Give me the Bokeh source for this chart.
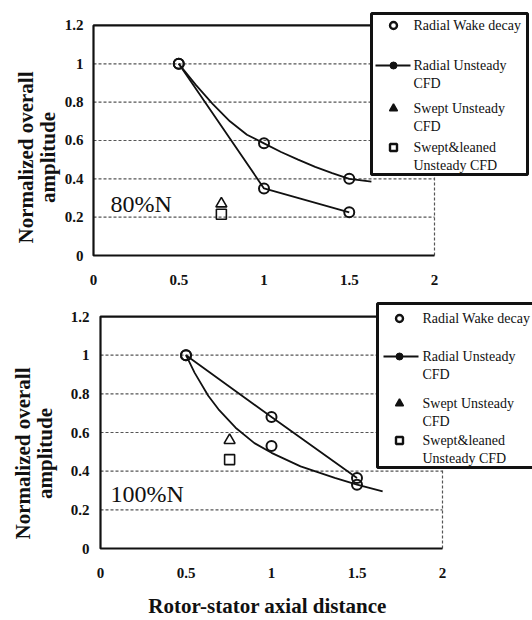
import math
from bokeh.plotting import figure
from bokeh.layouts import column
from bokeh.models import FixedTicker, NumeralTickFormatter, Label, Range1d
from bokeh.core.properties import value
from bokeh.embed import file_html
from bokeh.resources import INLINE

# ---------------- data ----------------
x_ticks = [0, 0.5, 1, 1.5, 2]
y_ticks = [0, 0.2, 0.4, 0.6, 0.8, 1.0, 1.2]

# 80%N panel
top_a_x = [0.5, 1.0, 1.5]
top_a_y = [1.0, 0.35, 0.225]
top_b_pts_x = [0.5, 1.0, 1.5]
top_b_pts_y = [1.0, 0.585, 0.40]
top_b_curve_x = [0.5, 0.6, 0.7, 0.8, 0.9, 1.0, 1.1, 1.2, 1.3, 1.4, 1.5, 1.63]
top_b_curve_y = [1.0, 0.89, 0.79, 0.70, 0.63, 0.585, 0.54, 0.50, 0.462, 0.43, 0.40, 0.385]
top_swept_x = [0.75]
top_swept_y = [0.27]
top_sl_x = [0.75]
top_sl_y = [0.215]

# 100%N panel
bot_a_x = [0.5, 1.0, 1.5]
bot_a_y = [1.0, 0.68, 0.365]
bot_b_pts_x = [0.5, 1.0, 1.5]
bot_b_pts_y = [1.0, 0.53, 0.33]
bot_b_curve_x = [0.5, 0.55, 0.63, 0.69, 0.79, 0.9, 1.0, 1.17, 1.37, 1.5, 1.65]
bot_b_curve_y = [1.0, 0.91, 0.79, 0.72, 0.625, 0.545, 0.495, 0.425, 0.365, 0.33, 0.295]
bot_swept_x = [0.755]
bot_swept_y = [0.56]
bot_sl_x = [0.755]
bot_sl_y = [0.46]

legend_lines = [["Radial Wake decay"], ["Radial Unsteady", "CFD"],
                ["Swept Unsteady", "CFD"], ["Swept&leaned", "Unsteady CFD"]]
y_title_lines = ["Normalized overall", "amplitude"]
x_title = "Rotor-stator axial distance"

SERIF = "Liberation Serif"
INK = "#111111"
W = 532


def make_panel(cfg, a_x, a_y, b_px, b_py, b_cx, b_cy, sw_x, sw_y, sl_x, sl_y, tag, xlabel):
    X0, SX, Y0, SY = cfg["X0"], cfg["SX"], cfg["Y0"], cfg["SY"]
    fx = lambda px: (px - X0) / SX          # page px -> data x
    fy = lambda py: (Y0 - py) / SY          # page py -> data y
    top, height = cfg["top"], cfg["height"]

    # the frame covers the whole canvas; axes sit at fixed data locations inside it
    p = figure(width=W, height=height, output_backend="svg", toolbar_location=None,
               x_range=Range1d(fx(0), fx(W)), y_range=Range1d(fy(top + height), fy(top)),
               min_border_left=0, min_border_right=0, min_border_top=0, min_border_bottom=0)
    p.background_fill_color = "white"
    p.border_fill_color = "white"
    p.outline_line_color = None
    p.xgrid.grid_line_color = None
    p.ygrid.grid_line_color = None

    p.xaxis.ticker = FixedTicker(ticks=x_ticks)
    p.yaxis.ticker = FixedTicker(ticks=y_ticks)
    p.xaxis.formatter = NumeralTickFormatter(format="0.[0]")
    p.yaxis.formatter = NumeralTickFormatter(format="0.[0]")
    p.xaxis.fixed_location = y_ticks[0]
    p.yaxis.fixed_location = x_ticks[0]
    for ax in (p.xaxis, p.yaxis):
        ax.axis_line_color = None
        ax.major_tick_line_color = None
        ax.minor_tick_line_color = None
        ax.major_tick_out = 0
        ax.major_tick_in = 0
        ax.minor_tick_out = 0
        ax.major_label_text_font = SERIF
        ax.major_label_text_font_style = "bold"
        ax.major_label_text_font_size = "15px"
        ax.major_label_text_color = INK
    p.xaxis.major_label_standoff = cfg["xlab_standoff"]
    p.yaxis.major_label_standoff = cfg["ylab_standoff"]

    # grid lines and plot-area border
    xa, xb = x_ticks[0], x_ticks[-1]
    ya, yb = y_ticks[0], y_ticks[-1]
    inner = y_ticks[1:-1]
    p.segment(x0=[xa] * len(inner), x1=[xb] * len(inner), y0=inner, y1=inner,
              line_color="#555555", line_width=1.2, line_dash="3 2")
    p.line([xb, xb], [ya, yb], line_color="#555555", line_width=1.2, line_dash="3 2")
    p.line([xb, xa, xa, xb], [yb, yb, ya, ya], line_color=INK, line_width=2.2)

    # data
    p.line(a_x, a_y, line_color=INK, line_width=1.8)
    p.line(b_cx, b_cy, line_color=INK, line_width=1.8)
    p.scatter(a_x, a_y, marker="circle", size=10, fill_color=None,
              line_color=INK, line_width=2)
    p.scatter(b_px, b_py, marker="circle", size=10, fill_color=None,
              line_color=INK, line_width=2)
    p.scatter(sw_x, sw_y, marker="triangle", size=11, fill_color=None,
              line_color=INK, line_width=1.6)
    p.scatter(sl_x, sl_y, marker="square", size=10, fill_color=None,
              line_color=INK, line_width=1.6)

    # legend
    L = cfg["legend"]
    p.quad(left=[fx(L["box"][0])], right=[fx(L["box"][1])],
           top=[fy(L["box"][2])], bottom=[fy(L["box"][3])],
           fill_color="white", line_color=INK, line_width=3)
    mx = fx(L["mx"])
    rows = L["rows"]
    p.scatter([mx], [fy(rows[0])], marker="circle", size=7, fill_color=None,
              line_color=INK, line_width=2.4)
    p.line([fx(L["line"][0]), fx(L["line"][1])], [fy(rows[1])] * 2,
           line_color=INK, line_width=2)
    p.scatter([mx], [fy(rows[1])], marker="circle", size=7, fill_color=INK,
              line_color=INK)
    p.scatter([mx], [fy(rows[2])], marker="triangle", size=8, fill_color=INK,
              line_color=INK, line_width=1.5)
    p.scatter([mx], [fy(rows[3])], marker="square", size=7, fill_color=None,
              line_color=INK, line_width=2.4)
    tx, ty, tt = [], [], []
    for r, lines in zip(rows, legend_lines):
        for k, s in enumerate(lines):
            tx.append(fx(L["tx"]))
            ty.append(fy(r + k * L["lh"]))
            tt.append(s)
    p.text(x=tx, y=ty, text=tt, text_font=value(SERIF), text_font_size="14px",
           text_color=INK, text_baseline="middle", text_align="left")

    # y-axis title (two rotated lines)
    yt = cfg["ytitle"]
    p.text(x=[fx(yt["x"][0]), fx(yt["x"][1])], y=[fy(yt["y"])] * 2, text=y_title_lines,
           angle=math.pi / 2, text_font=value(SERIF), text_font_style="bold",
           text_font_size="21px", text_color=INK, text_align="center",
           text_baseline="middle")

    if xlabel:
        xt = cfg["xtitle"]
        p.text(x=[fx(xt[0])], y=[fy(xt[1])], text=[xlabel], text_font=value(SERIF),
               text_font_style="bold", text_font_size="21px", text_color=INK,
               text_align="center", text_baseline="middle")

    p.add_layout(Label(x=fx(tag[1]), y=fy(tag[2]), text=tag[0], text_font=SERIF,
                       text_font_size="24px", text_color=INK,
                       text_baseline="middle"))
    return p


top_cfg = dict(X0=93, SX=170.5, Y0=255, SY=191.7, top=0, height=296,
               xlab_standoff=19, ylab_standoff=10,
               ytitle=dict(x=(25, 47), y=157),
               legend=dict(box=(371, 527, 13, 174), mx=393, tx=413, line=(375, 410),
                           rows=[25, 65, 108, 147], lh=18))
bot_cfg = dict(X0=100, SX=171, Y0=548, SY=193.3, top=296, height=324,
               xlab_standoff=19, ylab_standoff=11,
               ytitle=dict(x=(22, 44), y=453), xtitle=(267, 605),
               legend=dict(box=(377, 545, 303, 467), mx=399, tx=422, line=(383, 418),
                           rows=[318, 356, 403, 440], lh=18))

p1 = make_panel(top_cfg, top_a_x, top_a_y, top_b_pts_x, top_b_pts_y,
                top_b_curve_x, top_b_curve_y, top_swept_x, top_swept_y, top_sl_x, top_sl_y,
                ("80%N", 110, 203), None)
p2 = make_panel(bot_cfg, bot_a_x, bot_a_y, bot_b_pts_x, bot_b_pts_y,
                bot_b_curve_x, bot_b_curve_y, bot_swept_x, bot_swept_y, bot_sl_x, bot_sl_y,
                ("100%N", 110, 493), x_title)

layout = column(p1, p2, spacing=0)
open("out.html", "w").write(file_html(layout, INLINE))
